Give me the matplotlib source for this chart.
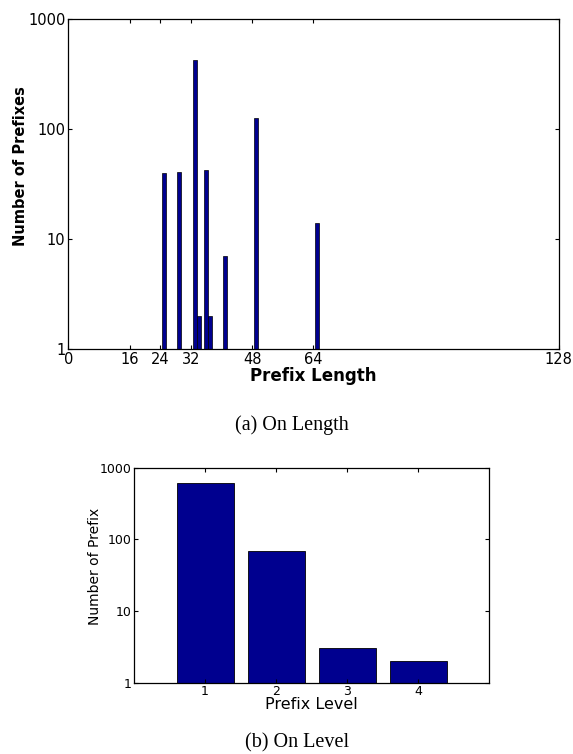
import numpy as np
import matplotlib
matplotlib.use('Agg')
from matplotlib import pyplot as plt
from matplotlib.ticker import FixedLocator, FixedFormatter, NullLocator

# (a) prefixes by prefix length
length_pos = [25, 29, 33, 34, 36, 37, 41, 49, 65]
length_count = [40, 41, 424, 2, 43, 2, 7, 126, 14]
length_ticks = [0, 16, 24, 32, 48, 64, 128]

# (b) prefixes by prefix level
level_pos = [1, 2, 3, 4]
level_count = [611, 69, 3, 2]

bar_color = (0.0, 0.0, 0.5625)
sans = 'DejaVu Sans'
serif = 'Liberation Serif'

fig = plt.figure(figsize=(5.73, 7.54), dpi=100)


def matlab_axes(ax, yticks, size):
    ax.set_yscale('log')
    ax.yaxis.set_major_locator(FixedLocator(yticks))
    ax.yaxis.set_major_formatter(FixedFormatter([str(t) for t in yticks]))
    ax.yaxis.set_minor_locator(NullLocator())
    ax.tick_params(direction='in', top=True, right=True, length=3, width=0.8,
                   labelsize=size, pad=2)
    for lab in ax.get_xticklabels() + ax.get_yticklabels():
        lab.set_family(sans)
    for sp in ax.spines.values():
        sp.set_linewidth(0.9)


# top chart
ax1 = fig.add_axes([0.1192, 0.5367, 0.8558, 0.4377])
ax1.bar(length_pos, length_count, width=1.05, bottom=0, color=bar_color,
        edgecolor='black', linewidth=0.5, log=True)
ax1.set_xlim(0, 128)
ax1.set_ylim(1, 1000)
ax1.set_xticks(length_ticks)
matlab_axes(ax1, [1, 10, 100, 1000], 10.5)
ax1.set_xlabel('Prefix Length', fontsize=12, fontweight='bold', family=sans, labelpad=0)
ax1.set_ylabel('Number of Prefixes', fontsize=10.5, fontweight='bold', family=sans,
               va='center')
ax1.yaxis.set_label_coords(-0.098, 0.555)

fig.text(0.509, 1 - 425 / 754, '(a) On Length', ha='center', va='center',
         fontsize=14.5, family=serif)

# bottom chart
ax2 = fig.add_axes([0.2339, 0.0946, 0.6201, 0.2851])
ax2.bar(level_pos, level_count, width=0.8, color=bar_color,
        edgecolor='black', linewidth=0.6, log=True)
ax2.set_xlim(0, 5)
ax2.set_ylim(1, 1000)
ax2.set_xticks(level_pos)
matlab_axes(ax2, [1, 10, 100, 1000], 9)
ax2.set_xlabel('Prefix Level', fontsize=11.5, family=sans, labelpad=-1)
ax2.set_ylabel('Number of Prefix', fontsize=10, family=sans, va='center')
ax2.yaxis.set_label_coords(-0.11, 0.543)

fig.text(0.518, 1 - 743 / 754, '(b) On Level', ha='center', va='center',
         fontsize=14.5, family=serif)

fig.savefig('out.png', dpi=100)
